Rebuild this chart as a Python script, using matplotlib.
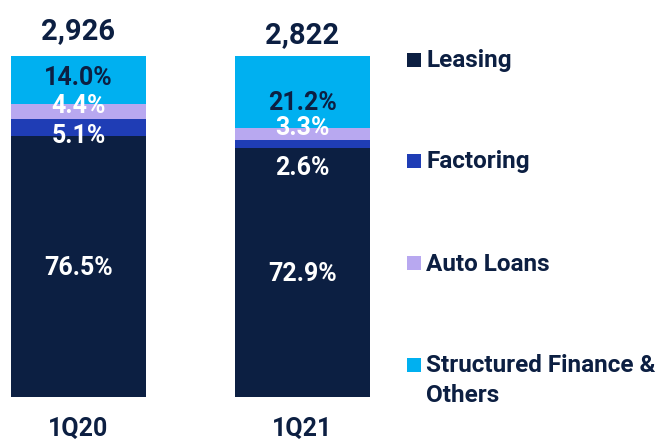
import matplotlib
matplotlib.use("Agg")
import matplotlib.pyplot as plt
import numpy as np

categories = ["1Q20", "1Q21"]
totals = ["2,926", "2,822"]
series = ["Leasing", "Factoring", "Auto Loans", "Structured Finance &\nOthers"]
leasing = [76.5, 72.9]
factoring = [5.1, 2.6]
auto_loans = [4.4, 3.3]
structured = [14.0, 21.2]

colors = ["#0c1f42", "#1f3db5", "#b8a8f0", "#00b0f0"]
label_colors = [["white", "white", "white", "#0c1f42"],
                ["white", "white", "white", "#0c1f42"]]
# label vertical positions (in percent units) per bar, per series
label_pos = [[37.8, 76.5, 85.3, 93.5],
             [36.2, 67.2, 78.9, 86.2]]

FONT = "Roboto"
DARK = "#0c1f42"

W, H = 662, 443
fig = plt.figure(figsize=(W / 100, H / 100), dpi=100)
bottom_px, top_px = 397, 56
ax = fig.add_axes([0, (H - bottom_px) / H, 380 / W, (bottom_px - top_px) / H])
ax.set_xlim(-78.5 / 224, (380 - 78.5) / 224)
ax.set_ylim(0, 100)
ax.axis("off")

x = np.arange(len(categories))
vals = [leasing, factoring, auto_loans, structured]
bottom = np.zeros(len(categories))
for i, v in enumerate(vals):
    ax.bar(x, v, width=135 / 224, bottom=bottom, color=colors[i], linewidth=0)
    bottom += np.array(v)

for j in range(len(categories)):
    for i, v in enumerate(vals):
        ax.text(x[j], label_pos[j][i], f"{v[j]:.1f}%", ha="center", va="center",
                color=label_colors[j][i], fontsize=18, fontweight="bold", family=FONT)

# totals (baseline positions in px)
tot_base = [39, 43]
for j, t in enumerate(totals):
    fig.text((78.5 + 224 * j) / W, 1 - tot_base[j] / H, t, ha="center", va="baseline",
             color=DARK, fontsize=21, fontweight="bold", family=FONT)
# category labels
for j, c in enumerate(categories):
    fig.text((78.5 + 224 * j) / W, 1 - 436 / H, c, ha="center", va="baseline",
             color=DARK, fontsize=18, fontweight="bold", family=FONT)

# legend
leg_base = [67, 168, 271, 372]
sq_top = [53, 154, 256, 358]
for i, name in enumerate(series):
    sq = plt.Rectangle((407 / W, 1 - (sq_top[i] + 13.5) / H), 13.5 / W, 13.5 / H,
                       transform=fig.transFigure, color=colors[i], linewidth=0)
    fig.patches.append(sq)
    for k, line in enumerate(name.split("\n")):
        fig.text(426 / W, 1 - (leg_base[i] + 30 * k) / H, line, ha="left", va="baseline",
                 color=DARK, fontsize=17.5, fontweight="bold", family=FONT)

fig.savefig("out.png", dpi=100)
